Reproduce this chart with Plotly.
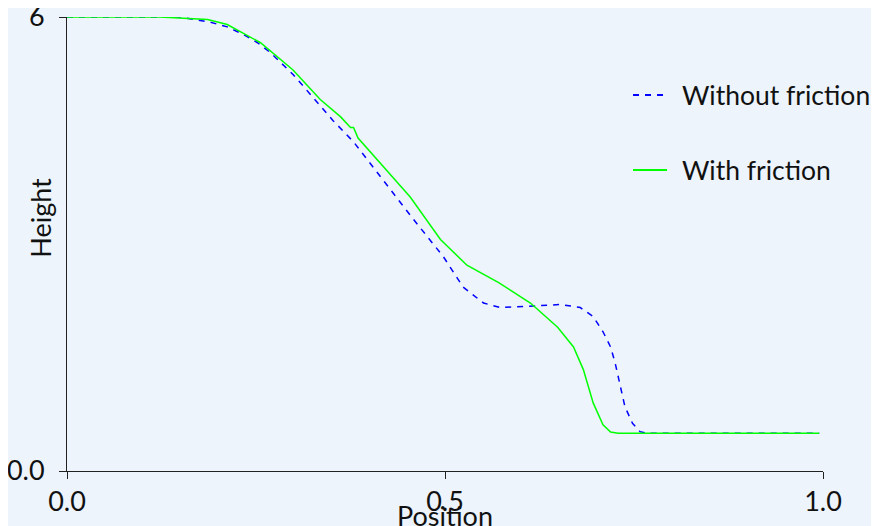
import plotly.graph_objects as go

# Data
x_without = [0.0, 0.15, 0.190, 0.212, 0.233, 0.252, 0.269, 0.282, 0.299, 0.313, 0.326, 0.339, 0.352,
             0.379, 0.454, 0.498, 0.524, 0.551, 0.573, 0.617, 0.653, 0.679, 0.696, 0.709, 0.719,
             0.725, 0.732, 0.738, 0.748, 0.758, 0.767, 0.995]
y_without = [6.0, 6.0, 5.93, 5.87, 5.77, 5.66, 5.53, 5.40, 5.24, 5.08, 4.93, 4.77, 4.63,
             4.35, 3.38, 2.83, 2.43, 2.22, 2.16, 2.18, 2.20, 2.16, 2.04, 1.84, 1.64,
             1.43, 1.11, 0.85, 0.63, 0.52, 0.50, 0.50]

x_with = [0.0, 0.123, 0.186, 0.212, 0.256, 0.299, 0.335, 0.362, 0.375, 0.379, 0.385, 0.454, 0.494,
          0.529, 0.571, 0.613, 0.649, 0.670, 0.683, 0.696, 0.709, 0.719, 0.729, 0.995]
y_with = [6.0, 6.0, 5.966, 5.90, 5.66, 5.30, 4.91, 4.68, 4.54, 4.54, 4.40, 3.62, 3.06,
          2.72, 2.49, 2.22, 1.90, 1.64, 1.34, 0.90, 0.61, 0.516, 0.50, 0.50]

series_names = ["Without friction", "With friction"]
series_colors = ["#0000FF", "#00FF00"]
series_dashes = ["6px,6px", "solid"]

x_tickvals = [0.0, 0.5, 1.0]
x_ticktext = ["0.0", "0.5", "1.0"]
y_tickvals = [0, 6]
y_ticktext = ["0.0", "6"]

BG = "#EDF4FB"
FONT = "Lato"
FS = 27

fig = go.Figure()
for xs, ys, name, color, dash in zip([x_without, x_with], [y_without, y_with],
                                     series_names, series_colors, series_dashes):
    fig.add_trace(go.Scatter(x=xs, y=ys, mode="lines", name=name,
                             line=dict(color=color, width=1.5, dash=dash)))

# Manual legend (kept inside the figure without pushing the margins)
legend_y = [0.828, 0.663]
shapes = []
annotations = []
for name, color, dash, ly in zip(series_names, series_colors, series_dashes, legend_y):
    shapes.append(dict(type="line", xref="paper", yref="paper", x0=0.7487, x1=0.7937, y0=ly, y1=ly,
                       line=dict(color=color, width=2, dash=dash)))
    annotations.append(dict(text=name, xref="paper", yref="paper", x=0.8105, y=ly, showarrow=False,
                            xanchor="left", yanchor="middle", font=dict(size=26.5)))

annotations += [
    dict(text="Height", xref="paper", yref="paper", x=-0.036, y=0.5 + (244 - 218) / 454,
         textangle=-90, showarrow=False, xanchor="center", yanchor="middle", font=dict(size=FS)),
    dict(text="Position", xref="paper", yref="paper", x=0.5, y=-(515 - 471) / 454,
         showarrow=False, xanchor="center", yanchor="middle", font=dict(size=FS)),
]

fig.update_layout(
    width=879, height=518,
    paper_bgcolor=BG, plot_bgcolor=BG,
    margin=dict(l=59, r=64, t=9, b=55),
    font=dict(family=FONT, size=FS, color="#111111"),
    showlegend=False,
    xaxis=dict(range=[0, 1], tickvals=x_tickvals, ticktext=x_ticktext, showgrid=False, zeroline=False,
               showline=True, linecolor="#222222", linewidth=1, ticks="outside", ticklen=7,
               tickcolor="#222222", tickfont=dict(size=FS), automargin=False,
               ticklabeloverflow="allow"),
    yaxis=dict(range=[0, 6], tickvals=y_tickvals, ticktext=y_ticktext, showgrid=False, zeroline=False,
               showline=True, linecolor="#222222", linewidth=1, ticks="outside", ticklen=7,
               tickcolor="#222222", tickfont=dict(size=FS), automargin=False,
               ticklabeloverflow="allow", ticklabelstandoff=9),
    shapes=shapes,
    annotations=annotations,
)

fig.write_html("out.html")
